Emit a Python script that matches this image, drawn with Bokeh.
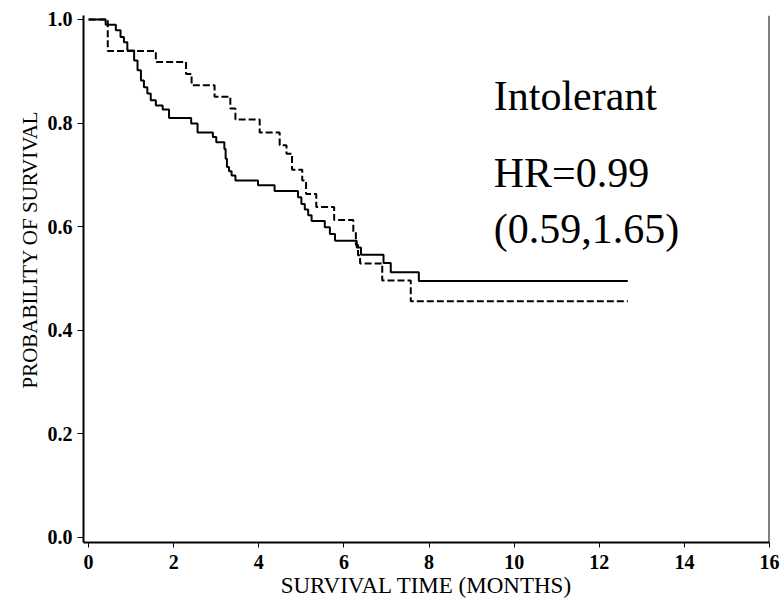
from bokeh.plotting import figure
from bokeh.models import Range1d, FixedTicker, Label, Span, Title
from bokeh.embed import file_html
from bokeh.resources import INLINE

# Kaplan-Meier curves (time of drop in months, survival after drop)
solid_time = [0, 0.40, 0.64, 0.75, 0.83, 0.91, 1.07, 1.15, 1.23, 1.30, 1.38, 1.46,
              1.58, 1.74, 1.89, 2.41, 2.56, 2.92, 3.00, 3.19, 3.22, 3.25, 3.30,
              3.36, 3.45, 3.98, 4.37, 4.92, 5.00, 5.08, 5.16, 5.24, 5.55, 5.67,
              5.79, 6.30, 6.40, 6.93, 7.10, 7.76, 12.67]
solid_surv = [1.0, 0.990, 0.979, 0.966, 0.956, 0.940, 0.921, 0.902, 0.882, 0.869,
              0.857, 0.844, 0.834, 0.826, 0.810, 0.799, 0.782, 0.773, 0.763, 0.750,
              0.731, 0.715, 0.707, 0.699, 0.689, 0.680, 0.669, 0.657, 0.644, 0.633,
              0.622, 0.611, 0.599, 0.586, 0.573, 0.560, 0.546, 0.530, 0.512, 0.495,
              0.495]

dashed_time = [0, 0.45, 1.58, 2.29, 2.42, 2.96, 3.33, 3.45, 4.02, 4.49, 4.65, 4.78,
               5.02, 5.11, 5.35, 5.77, 6.22, 6.28, 6.33, 6.38, 6.90, 7.57, 12.67]
dashed_surv = [1.0, 0.939, 0.918, 0.895, 0.873, 0.851, 0.828, 0.807, 0.782, 0.757,
               0.741, 0.710, 0.689, 0.663, 0.638, 0.613, 0.590, 0.565, 0.545, 0.529,
               0.496, 0.456, 0.456]

x_ticks = [0, 2, 4, 6, 8, 10, 12, 14, 16]
y_ticks = [0.0, 0.2, 0.4, 0.6, 0.8, 1.0]
y_tick_labels = {0.0: "0.0", 0.2: "0.2", 0.4: "0.4", 0.6: "0.6", 0.8: "0.8", 1.0: "1.0"}

group_label = "Intolerant"
hr_text = "HR=0.99"
ci_text = "(0.59,1.65)"
x_title = "SURVIVAL TIME (MONTHS)"
y_title = "PROBABILITY OF SURVIVAL"

SERIF = "Liberation Serif"

p = figure(width=781, height=604, output_backend="svg", toolbar_location=None,
           x_range=Range1d(-0.12, 16), y_range=Range1d(-0.0097, 1.0077),
           min_border_left=83, min_border_right=12, min_border_top=15,
           min_border_bottom=62, background_fill_color="white",
           border_fill_color="white")
p.outline_line_color = None
p.grid.grid_line_color = None

p.step(solid_time, solid_surv, mode="after", line_color="black", line_width=2)
p.step(dashed_time, dashed_surv, mode="after", line_color="black", line_width=2,
       line_dash="7 3")

# right frame line
p.add_layout(Span(location=16, dimension="height", line_color="black", line_width=2))

for ax in (p.xaxis[0], p.yaxis[0]):
    ax.axis_line_width = 2
    ax.axis_line_color = "black"
    ax.major_tick_line_color = "black"
    ax.major_tick_line_width = 1
    ax.major_tick_in = 0
    ax.minor_tick_line_color = None
    ax.major_label_text_font = SERIF
    ax.major_label_text_font_style = "bold"
    ax.major_label_text_font_size = "20px"
    ax.major_label_text_color = "black"

p.xaxis.ticker = FixedTicker(ticks=x_ticks)
p.xaxis.major_tick_out = 5
p.xaxis.major_label_standoff = 7
p.xaxis.axis_label = x_title
p.xaxis.axis_label_standoff = 1
p.xaxis.axis_label_text_font = SERIF
p.xaxis.axis_label_text_font_style = "normal"
p.xaxis.axis_label_text_font_size = "23px"
p.xaxis.axis_label_text_color = "black"

p.yaxis.ticker = FixedTicker(ticks=y_ticks)
p.yaxis.major_label_overrides = y_tick_labels
p.yaxis.major_tick_out = 6
p.yaxis.major_label_standoff = 5

# y axis title, placed along the left side
p.add_layout(Title(text=y_title, align="left", offset=154, standoff=6,
                   text_font=SERIF, text_font_style="normal",
                   text_font_size="21px", text_color="black"), "left")

# annotation text
for txt, yy in ((group_label, 0.853), (hr_text, 0.703), (ci_text, 0.596)):
    p.add_layout(Label(x=9.52, y=yy, text=txt, text_align="left",
                       text_baseline="alphabetic", text_font=SERIF,
                       text_font_size="42px", text_color="black"))

open("out.html", "w").write(file_html(p, INLINE))
